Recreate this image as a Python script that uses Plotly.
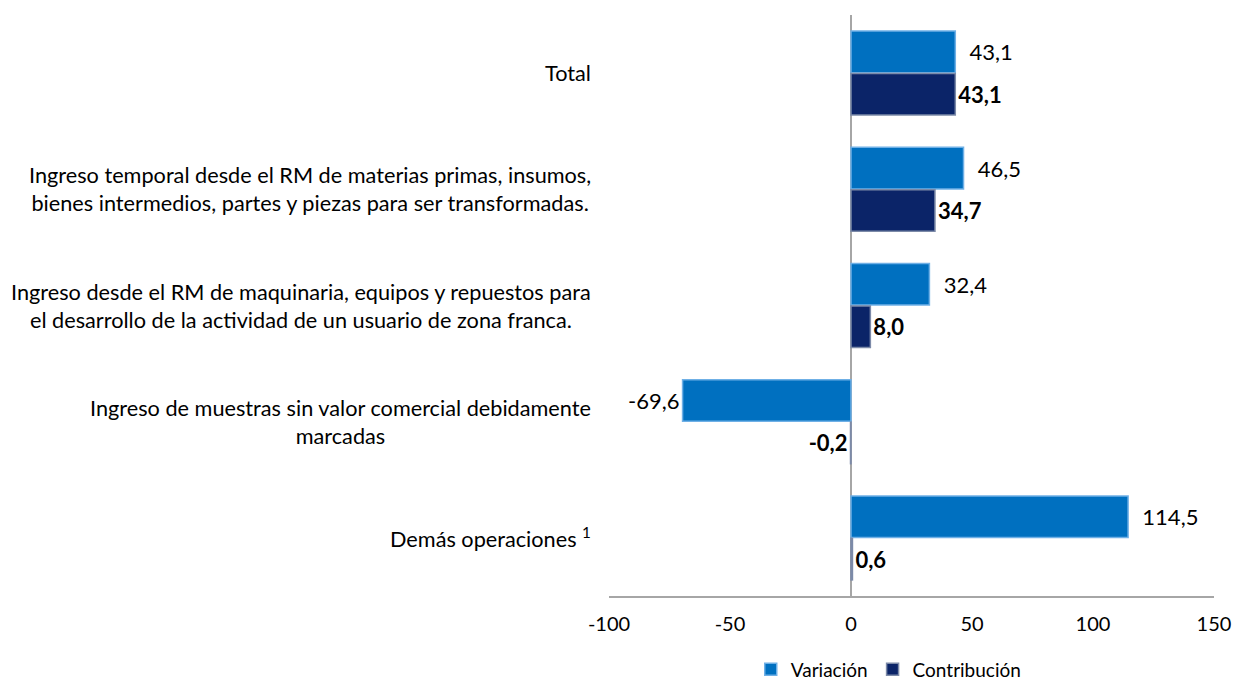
import plotly.graph_objects as go

categories = [
    "Total",
    "Ingreso temporal desde el RM de materias primas, insumos,<br>bienes intermedios, partes y piezas para ser transformadas.",
    "Ingreso desde el RM de maquinaria, equipos y repuestos para<br>el desarrollo de la actividad de un usuario de zona franca.",
    "Ingreso de muestras sin valor comercial debidamente<br>marcadas",
    "Demás operaciones <sup>1</sup>",
]
cat_ids = ["c1", "c2", "c3", "c4", "c5"]
variacion = [43.1, 46.5, 32.4, -69.6, 114.5]
contribucion = [43.1, 34.7, 8.0, -0.2, 0.6]
tick_vals = [-100, -50, 0, 50, 100, 150]

FONT = "Lato, 'Open Sans', sans-serif"

def fmt(v):
    return f"{v:.1f}".replace(".", ",")

var_text = [("\u00a0\u00a0" + fmt(v)) if v >= 0 else fmt(v) for v in variacion]
con_text = ["<b>" + fmt(v) + "</b>" for v in contribucion]

fig = go.Figure()
fig.add_trace(go.Bar(
    y=cat_ids, x=variacion, orientation="h", name="Variación",
    marker=dict(color="#0070C0", line=dict(color="#6FB0E6", width=1.5)),
    text=var_text, textposition="outside",
    textfont=dict(size=22, color="#000000", family=FONT),
    cliponaxis=False,
))
fig.add_trace(go.Bar(
    y=cat_ids, x=contribucion, orientation="h", name="Contribución",
    marker=dict(color="#0B2468", line=dict(color="#7C8AA8", width=1.5)),
    text=con_text, textposition="outside",
    textfont=dict(size=22, color="#000000", family=FONT),
    cliponaxis=False,
))

for cid, label in zip(cat_ids, categories):
    fig.add_annotation(
        x=-0.027, xref="paper", y=cid, yref="y", text=label,
        showarrow=False, xanchor="right", yanchor="middle", align="center",
        font=dict(size=21.7, color="#000000", family=FONT),
    )

fig.update_layout(
    width=1243, height=683,
    margin=dict(l=609, r=22, t=15, b=87),
    paper_bgcolor="white", plot_bgcolor="white",
    barmode="group", bargap=0.27, bargroupgap=0.02,
    font=dict(family=FONT, size=20, color="#000000"),
    showlegend=True,
    legend=dict(orientation="h", xref="container", yref="container",
                x=0.715, y=0.02, xanchor="center", yanchor="middle",
                font=dict(size=19, family=FONT), itemwidth=30,
                traceorder="normal"),
    xaxis=dict(range=[-100, 150], tickvals=tick_vals, ticktext=[str(t) for t in tick_vals],
               showgrid=False, zeroline=True, zerolinecolor="#A6A6A6", zerolinewidth=1.5,
               showline=True, linecolor="#A6A6A6", linewidth=1.5, ticks="",
               tickfont=dict(size=20, family=FONT), ticklabelstandoff=9),
    yaxis=dict(categoryorder="array", categoryarray=cat_ids, autorange="reversed",
               showticklabels=False, showgrid=False, zeroline=False, showline=False, ticks=""),
)

fig.write_html("out.html", config={"displayModeBar": False},
               post_script="document.body.style.margin='0';document.body.style.overflow='hidden';")
